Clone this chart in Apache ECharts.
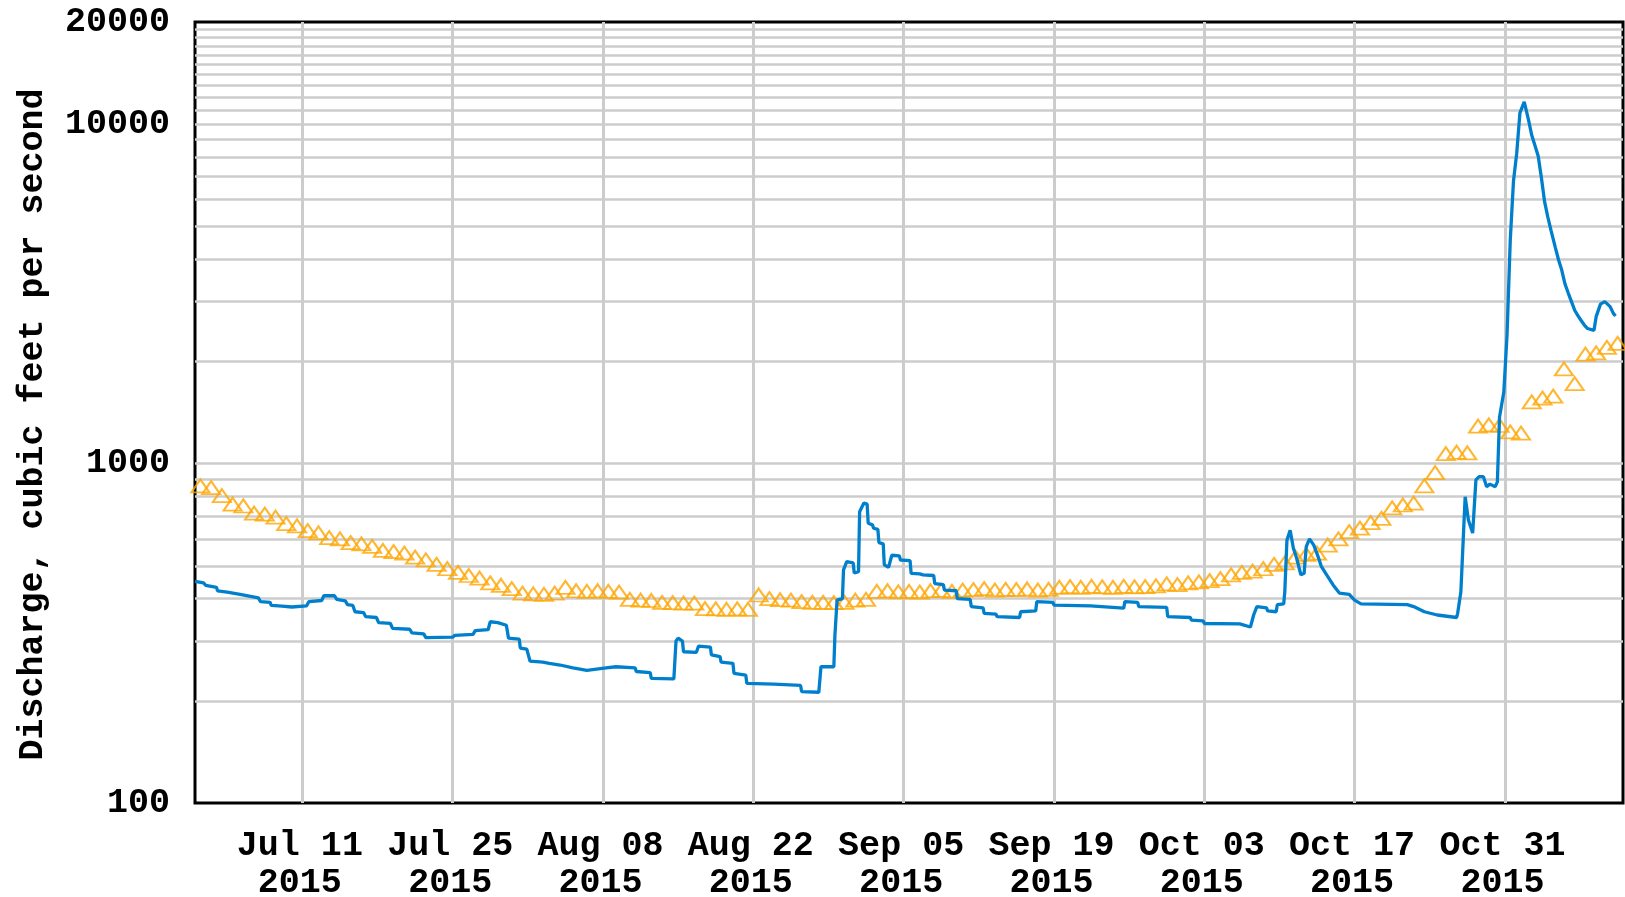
<!DOCTYPE html>
<html>
<head>
<meta charset="utf-8">
<title>Discharge, cubic feet per second</title>
<script src="https://cdn.jsdelivr.net/npm/echarts@6/dist/echarts.min.js"></script>
<style>
  html, body { margin: 0; padding: 0; background: #fff; }
  #JS_FlowChart { width: 1625px; height: 897px; }
</style>
</head>
<body>
<div id="JS_FlowChart"></div>
<script>
// axis range and ticks
const startDate = '2015-07-01';
const endDate = '2015-11-11';
const xTickDates = ['2015-07-11', '2015-07-25', '2015-08-08', '2015-08-22', '2015-09-05',
  '2015-09-19', '2015-10-03', '2015-10-17', '2015-10-31'];
const yLabelValues = [100, 1000, 10000, 20000];
const yGridValues = [200, 300, 400, 500, 600, 700, 800, 900, 1000,
  2000, 3000, 4000, 5000, 6000, 7000, 8000, 9000, 10000,
  11000, 12000, 13000, 14000, 15000, 16000, 17000, 18000, 19000];
const monthNames = ['Jan', 'Feb', 'Mar', 'Apr', 'May', 'Jun', 'Jul', 'Aug', 'Sep', 'Oct', 'Nov', 'Dec'];

// median daily statistic, one value per day starting Jul 01
const medianCfs = [
  860, 850, 805, 760, 750, 715, 710, 695, 665, 655,
  635, 625, 605, 600, 585, 580, 570, 555, 550, 545,
  530, 520, 505, 490, 478, 468, 460, 445, 438, 428,
  415, 413, 412, 415, 432, 422, 420, 422, 420, 418,
  398, 396, 395, 390, 389, 388, 388, 374, 373, 372,
  373, 372, 410, 400, 397, 396, 392, 390, 390, 389,
  390, 396, 398, 420, 422, 419, 420, 418, 422, 423,
  420, 424, 425, 428, 424, 426, 425, 427, 424, 426,
  432, 434, 432, 435, 433, 432, 435, 433, 434, 436,
  442, 440, 445, 448, 452, 458, 470, 478, 482, 490,
  505, 510, 530, 540, 545, 575, 600, 630, 645, 670,
  690, 740, 755, 765, 860, 940, 1070, 1080, 1075, 1290,
  1300, 1295, 1240, 1230, 1520, 1560, 1580, 1900, 1720, 2100,
  2120, 2200, 2260
];

// discharge: days since Jul 01 and cfs
const flowDay = [
  0, 0.8, 1.0, 2.0, 2.1, 3.0, 3.1, 4.2, 4.3, 5.9, 6.1, 7.0, 7.1, 8.1, 9.0, 10.4, 10.6, 11.8, 12.0, 13.0,
  13.2, 14.0, 14.2, 14.7, 14.9, 15.7, 15.9, 16.9, 17.1, 18.2, 18.4, 20.0, 20.2, 21.3, 21.5, 24.0, 24.2, 25.9, 26.1, 27.3,
  27.5, 28.2, 28.3, 29.0, 29.2, 30.2, 30.3, 30.9, 31.2, 32.4, 33.0, 34.0, 34.1, 35.2, 35.3, 36.5, 36.6, 38.3, 39.2, 41.0,
  41.1, 42.4, 42.5, 44.6, 44.8, 45.0, 45.4, 45.5, 46.7, 46.9, 48.0, 48.1, 48.9, 49.0, 50.1, 50.2, 51.3, 51.4, 53.9, 56.4,
  56.5, 58.1, 58.3, 59.5, 59.6, 59.8, 60.3, 60.4, 60.7, 61.3, 61.4, 61.8, 61.9, 62.3, 62.6, 62.7, 63.1, 63.2, 63.6, 63.7,
  64.1, 64.2, 64.6, 64.9, 65.6, 65.7, 66.6, 66.7, 67.5, 67.8, 68.8, 68.9, 69.7, 69.8, 70.9, 71.0, 72.2, 72.3, 73.4, 73.5,
  74.6, 74.7, 76.8, 76.9, 78.3, 78.4, 79.9, 80.0, 83.4, 83.5, 86.5, 86.6, 87.8, 87.9, 90.5, 90.6, 92.7, 92.8, 93.9, 94.0,
  97.3, 98.3, 98.6, 98.9, 99.8, 99.9, 100.7, 100.8, 101.4, 101.5, 101.7, 102.0, 102.3, 102.6, 103.0, 103.3, 103.5, 103.8, 104.2, 104.6,
  104.9, 105.4, 106.0, 106.6, 107.5, 108.0, 108.6, 112.9, 113.5, 114.5, 115.7, 115.8, 117.5, 117.6, 117.9, 118.2, 118.3, 118.6, 119.0, 119.3,
  119.6, 120.0, 120.3, 120.6, 121.1, 121.3, 121.5, 121.9, 122.2, 122.5, 122.8, 123.1, 123.4, 123.8, 124.2, 124.5, 124.8, 125.1, 125.4, 125.7,
  126.0, 126.3, 126.7, 127.0, 127.3, 127.6, 127.9, 128.2, 128.5, 128.8, 129.1, 129.4, 129.7, 130.3, 130.5, 130.9, 131.3, 131.8, 132.1, 132.3
];
const flowCfs = [
  450, 445, 438, 432, 422, 418, 414, 412, 407, 402, 392, 390, 382, 380, 378, 381, 392, 395, 408, 408,
  398, 394, 384, 382, 366, 364, 354, 352, 340, 338, 327, 325, 317, 315, 307, 308, 312, 314, 322, 324,
  342, 340, 336, 334, 306, 304, 286, 284, 262, 260, 258, 255, 252, 250, 247, 246, 249, 250, 252, 250,
  244, 242, 233, 232, 300, 306, 300, 279, 278, 290, 288, 273, 270, 260, 258, 241, 238, 225, 224, 222,
  213, 212, 252, 252, 312, 396, 400, 486, 514, 510, 476, 480, 721, 765, 760, 667, 660, 645, 640, 585,
  580, 503, 495, 537, 535, 520, 518, 475, 473, 470, 468, 443, 440, 424, 422, 400, 398, 379, 376, 362,
  360, 354, 352, 366, 368, 392, 390, 383, 381, 376, 375, 392, 390, 379, 377, 354, 352, 346, 344, 338,
  337, 330, 358, 379, 376, 368, 366, 384, 386, 419, 595, 636, 563, 527, 470, 475, 569, 600, 575, 532,
  498, 470, 439, 415, 412, 396, 386, 384, 379, 366, 358, 354, 352, 362, 419, 682, 798, 682, 624, 895,
  915, 915, 855, 870, 855, 883, 1372, 1625, 2393, 4554, 6800, 8200, 10800, 11630, 10290, 9270, 8650, 8060, 6950, 5900,
  5320, 4860, 4330, 3980, 3710, 3380, 3180, 3000, 2830, 2730, 2640, 2560, 2500, 2470, 2710, 2950, 3000, 2900, 2770, 2720
];

const DAY = 86400000;
let option;

function toTime(s) {
  const p = s.split('-');
  return Date.UTC(+p[0], +p[1] - 1, +p[2]);
}

// x axis runs in days since startDate
function toDay(s) {
  return (toTime(s) - toTime(startDate)) / DAY;
}

function fmtDay(value) {
  const d = new Date(toTime(startDate) + Math.round(value) * DAY);
  const dd = d.getUTCDate() < 10 ? '0' + d.getUTCDate() : '' + d.getUTCDate();
  return monthNames[d.getUTCMonth()] + ' ' + dd + '\n' + d.getUTCFullYear();
}

function initOpt() {
  const labelFont = {
    color: '#000',
    fontFamily: 'Liberation Mono',
    fontWeight: 'bold',
    fontSize: 35,
  };
  const xTicks = xTickDates.map(toDay);
  const medianData = medianCfs.map((v, i) => [i + 0.5, v]);
  const flowData = flowDay.map((d, i) => [d, flowCfs[i]]);

  option = {
    animation: false,
    backgroundColor: '#fff',
    grid: {
      left: 195,
      right: 2,
      top: 22,
      bottom: 94,
      outerBoundsMode: 'none',
      show: true,
      borderColor: '#000',
      borderWidth: 3,
    },
    xAxis: {
      type: 'value',
      min: 0,
      max: toDay(endDate),
      axisLine: { show: false },
      axisTick: { show: false, customValues: xTicks },
      splitLine: { show: true, lineStyle: { color: '#cccccc', width: 3 } },
      axisLabel: Object.assign({
        customValues: xTicks,
        formatter: fmtDay,
        margin: 25,
        lineHeight: 37,
        padding: [0, 5, 0, 0],
      }, labelFont),
    },
    yAxis: {
      type: 'log',
      logBase: 10,
      min: 100,
      max: 20000,
      name: 'Discharge, cubic feet per second',
      nameLocation: 'middle',
      nameGap: 144,
      nameTextStyle: Object.assign({ padding: [0, 24, 0, 0] }, labelFont),
      axisLine: { show: false },
      axisTick: { show: false, customValues: yGridValues },
      splitLine: { show: true, lineStyle: { color: '#cccccc', width: 2.5 } },
      axisLabel: Object.assign({
        customValues: yLabelValues,
        formatter: (v) => String(Math.round(v)),
        margin: 25,
      }, labelFont),
    },
    series: [
      {
        name: 'Median daily statistic',
        type: 'scatter',
        data: medianData,
        symbol: 'triangle',
        symbolSize: [18, 13],
        itemStyle: {
          color: 'rgba(0,0,0,0)',
          borderColor: '#ffa500',
          borderWidth: 2,
        },
        z: 2,
      },
      {
        name: 'Discharge',
        type: 'line',
        data: flowData,
        showSymbol: false,
        lineStyle: { color: '#0080cc', width: 3.3 },
        z: 3,
      },
    ],
  };
}

function initView() {
  initOpt();
  const chartDom = document.getElementById('JS_FlowChart');
  const flowChart = echarts.init(chartDom);
  option && flowChart.setOption(option);
}

initView();
</script>
</body>
</html>
